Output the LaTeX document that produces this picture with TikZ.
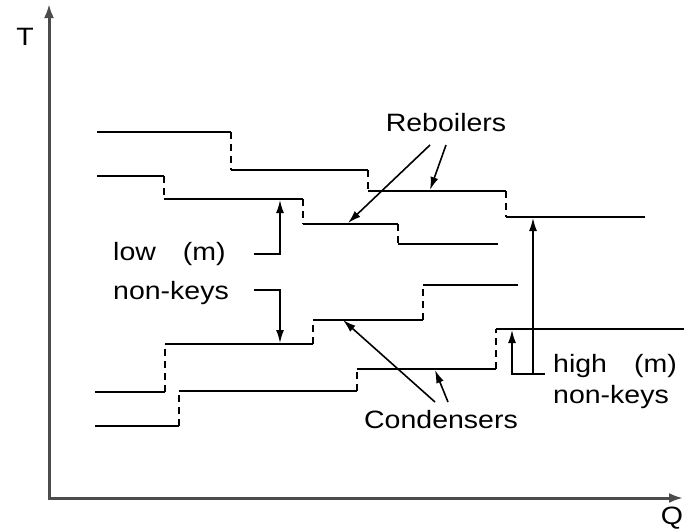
\documentclass[tikz,border=0pt]{standalone}
\usepackage{fontspec}
\usepackage{graphicx}
\setmainfont{Liberation Sans}
\usetikzlibrary{arrows.meta}
% labels are set slightly condensed in height
\newcommand\lblsquash[1]{\scalebox{1}[0.88]{#1}}
\begin{document}
\begin{tikzpicture}[x=1pt,y=-1pt,
  curve/.style={line width=1.8pt},
  riser/.style={line width=1.8pt, dash pattern=on 7pt off 5pt},
  axis/.style={line width=3pt, draw=black!70},
  lbl/.style={font=\fontsize{28.5}{32}\selectfont, inner sep=0pt},
  ptr/.style={line width=1.6pt, -{Latex[length=13pt,width=8pt]}}]
\useasboundingbox (0,0) rectangle (684,531);

% axes
\draw[axis, {Latex[length=14pt,width=10pt]}-{Latex[length=14pt,width=10pt]}]
  (49,4) -- (49,498) -- (683,498);
\node[lbl] (tlabel) at (25,37) {\lblsquash{T}};
\node[lbl] (qlabel) at (672,518) {\lblsquash{Q}};

% upper staircase (reboilers, heavy curve)
\draw[curve] (97,132) -- (231,132);
\draw[riser] (231,132) -- (231,170);
\draw[curve] (231,170) -- (368,170);
\draw[riser] (368,170) -- (368,191);
\draw[curve] (368,191) -- (506,191);
\draw[riser] (506,191) -- (506,217);
\draw[curve] (506,217) -- (645,217);

% upper staircase (reboilers, lower curve)
\draw[curve] (97,176) -- (164,176);
\draw[riser] (164,176) -- (164,199);
\draw[curve] (164,199) -- (303,199);
\draw[riser] (303,199) -- (303,224);
\draw[curve] (303,224) -- (398,224);
\draw[riser] (398,224) -- (398,244);
\draw[curve] (398,244) -- (498,244);

% lower staircase (condensers, upper curve)
\draw[curve] (95,392) -- (165,392);
\draw[riser] (165,392) -- (165,344);
\draw[curve] (165,344) -- (313,344);
\draw[riser] (313,344) -- (313,320);
\draw[curve] (313,320) -- (423,320);
\draw[riser] (423,320) -- (423,285);
\draw[curve] (423,285) -- (518,285);

% lower staircase (condensers, lower curve)
\draw[curve] (95,426) -- (179,426);
\draw[riser] (179,426) -- (179,391);
\draw[curve] (179,391) -- (357,391);
\draw[riser] (357,391) -- (357,369);
\draw[curve] (357,369) -- (496,369);
\draw[riser] (496,369) -- (496,329);
\draw[curve] (496,329) -- (684,329);

% labels
\node[lbl] (reb) at (446,123) {\lblsquash{Reboilers}};
\node[lbl] (cond) at (441,420) {\lblsquash{Condensers}};
\node[lbl, anchor=west] (lowm) at (113,254) {\lblsquash{low\hspace{27pt}(m)}};
\node[lbl, anchor=west] (lownk) at (113,293) {\lblsquash{non-keys}};
\node[lbl, anchor=west] (highm) at (553,366) {\lblsquash{high\hspace{27pt}(m)}};
\node[lbl, anchor=west] (highnk) at (553,397) {\lblsquash{non-keys}};

% pointer ends
\coordinate (rebA) at (430,145);
\coordinate (rebB) at (446,145);
\coordinate (rebT1) at (348,223);
\coordinate (rebT2) at (430,190);
\coordinate (condA) at (435,402);
\coordinate (condB) at (448,402);
\coordinate (condT1) at (343,320);
\coordinate (condT2) at (435,370);
\coordinate (lowS) at (254,254);
\coordinate (lowT) at (280,200);
\coordinate (nkS) at (254,290);
\coordinate (nkT) at (280,343);
\coordinate (hiS) at (545,374);
\coordinate (hiT) at (512,330);
\coordinate (hiBase) at (533,374);
\coordinate (hiTop) at (533,218);

% pointers
\draw[ptr] (rebA) -- (rebT1);
\draw[ptr] (rebB) -- (rebT2);
\draw[ptr] (condA) -- (condT1);
\draw[ptr] (condB) -- (condT2);
\draw[ptr] (lowS) -| (lowT);
\draw[ptr] (nkS) -| (nkT);
\draw[ptr] (hiS) -| (hiT);
\draw[ptr] (hiBase) -- (hiTop);
\end{tikzpicture}
\end{document}
